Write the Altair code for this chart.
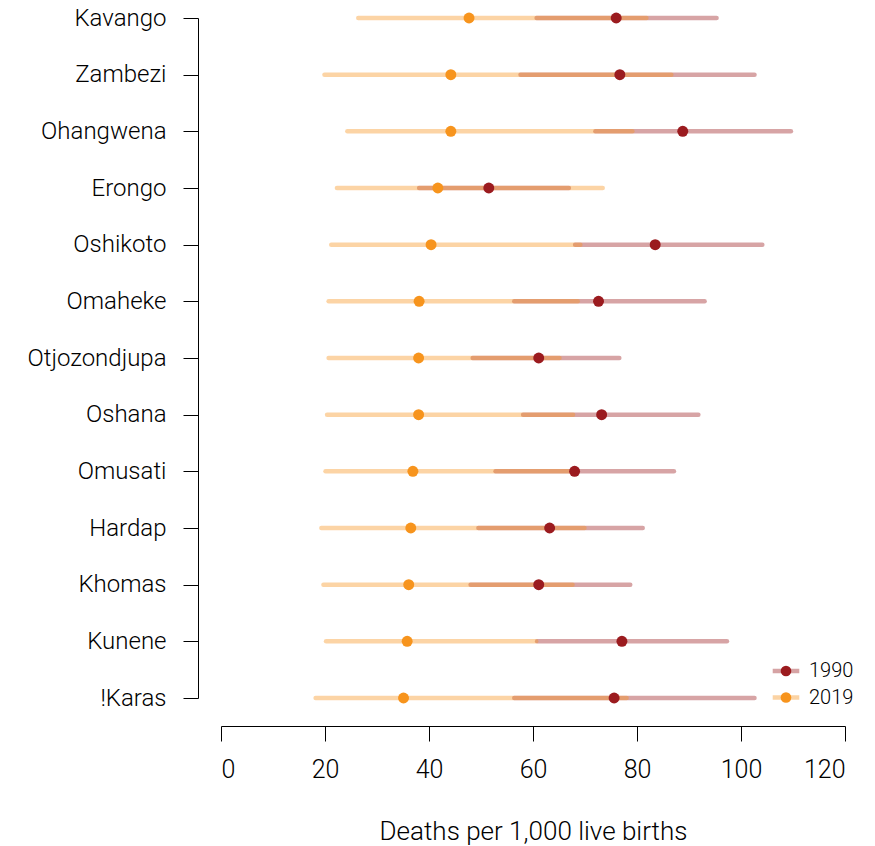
import altair as alt
import pandas as pd

regions = ["Kavango", "Zambezi", "Ohangwena", "Erongo", "Oshikoto", "Omaheke",
           "Otjozondjupa", "Oshana", "Omusati", "Hardap", "Khomas", "Kunene", "!Karas"]

mean_1990 = [76.0, 76.7, 88.8, 51.5, 83.5, 72.6, 61.1, 73.2, 68.0, 63.2, 61.1, 77.1, 75.6]
lower_1990 = [60.7, 57.6, 72.0, 38.1, 68.1, 56.4, 48.4, 58.1, 52.8, 49.5, 48.0, 60.8, 56.4]
upper_1990 = [95.3, 102.6, 109.6, 66.9, 104.1, 93.0, 76.6, 91.8, 87.1, 81.1, 78.7, 97.3, 102.6]

mean_2019 = [47.7, 44.2, 44.2, 41.7, 40.4, 38.1, 38.0, 38.0, 36.9, 36.5, 36.1, 35.8, 35.1]
lower_2019 = [26.4, 19.9, 24.3, 22.3, 21.2, 20.7, 20.7, 20.4, 20.1, 19.3, 19.7, 20.2, 18.2]
upper_2019 = [81.8, 86.6, 79.1, 73.4, 69.1, 68.6, 65.1, 67.7, 67.7, 69.9, 67.6, 60.6, 78.0]

years = ["1990", "2019"]
colors = ["#9B1B1F", "#F7941D"]
x_ticks = [0, 20, 40, 60, 80, 100, 120]

rows = []
for yr, means, los, his in [("1990", mean_1990, lower_1990, upper_1990),
                            ("2019", mean_2019, lower_2019, upper_2019)]:
    for r, m, lo, hi in zip(regions, means, los, his):
        rows.append({"region": r, "year": yr, "mean": m, "lo": lo, "hi": hi})
df = pd.DataFrame(rows)

FONT = "Roboto"

x_scale = alt.Scale(domain=[0, 120], nice=False, zero=False)
x_axis = alt.Axis(title="Deaths per 1,000 live births", values=x_ticks, offset=28,
                  tickSize=15, labelPadding=16, titlePadding=36, grid=False,
                  domainColor="black", tickColor="black", labelColor="black",
                  titleColor="black", labelFontSize=25, titleFontSize=26,
                  labelFont=FONT, titleFont=FONT, labelFontWeight=300,
                  titleFontWeight=300, format="d")
y_enc = alt.Y("region:N", sort=regions,
              scale=alt.Scale(type="point", padding=0),
              axis=alt.Axis(title=None, offset=23, tickSize=15, labelPadding=17,
                            grid=False, domainColor="black", tickColor="black",
                            labelColor="black", labelFontSize=24, labelFont=FONT,
                            labelFontWeight=300, labelLimit=400))

LEG_X = 555
LEG_Y = 643

rules = alt.Chart(df).mark_rule(strokeWidth=4.5, strokeCap="round", opacity=0.4).encode(
    x=alt.X("lo:Q", scale=x_scale, axis=x_axis),
    x2="hi:Q",
    y=y_enc,
    stroke=alt.Stroke("year:N", scale=alt.Scale(range=colors),
                      legend=alt.Legend(title=None, orient="none", legendX=LEG_X,
                                        legendY=LEG_Y, symbolType="M-2.5,0H2.5",
                                        symbolSize=113, symbolStrokeWidth=4.5,
                                        symbolOpacity=0.4, labelOpacity=0,
                                        labelFontSize=20, labelOffset=13,
                                        rowPadding=6.5, padding=0, zindex=0,
                                        labelFont=FONT)),
)

points = alt.Chart(df).mark_circle(size=120, opacity=1).encode(
    x=alt.X("mean:Q", scale=x_scale),
    y=y_enc,
    fill=alt.Fill("year:N", scale=alt.Scale(domain=years, range=colors),
                  legend=alt.Legend(title=None, orient="none", legendX=LEG_X,
                                    legendY=LEG_Y, symbolType="circle",
                                    symbolSize=113, symbolOpacity=1,
                                    symbolStrokeWidth=0,
                                    labelFontSize=20, labelOffset=13,
                                    rowPadding=6.5, padding=0, zindex=1,
                                    labelFont=FONT, labelFontWeight=300,
                                    labelColor="black")),
)

chart = alt.layer(rules, points).properties(
    width=624, height=680,
    autosize=alt.AutoSizeParams(type="none"),
    padding={"left": 213, "top": 10, "right": 20, "bottom": 150},
).configure_view(stroke=None)

chart.save("out.html", embed_options={"renderer": "svg", "actions": False})
